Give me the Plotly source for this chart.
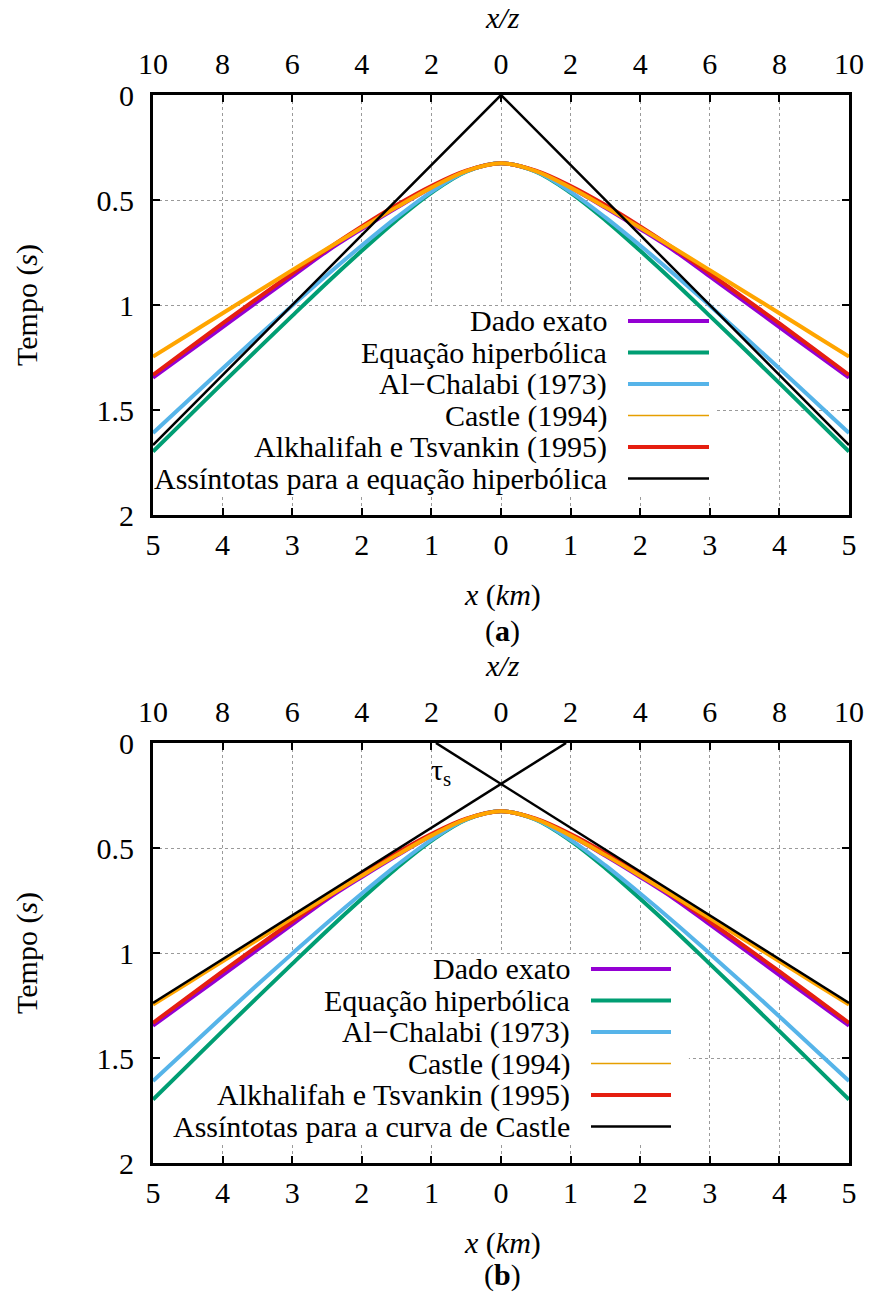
import plotly.graph_objects as go

# ---------------- data ----------------
X_KM = [-5.0, -4.5, -4.0, -3.5, -3.0, -2.5, -2.0, -1.5, -1.0, -0.5, 0.0,
        0.5, 1.0, 1.5, 2.0, 2.5, 3.0, 3.5, 4.0, 4.5, 5.0]

DADO_EXATO = [1.346, 1.226, 1.105, 0.984, 0.864, 0.744, 0.638, 0.537, 0.442, 0.362, 0.325,
              0.362, 0.442, 0.537, 0.638, 0.744, 0.864, 0.984, 1.105, 1.226, 1.346]
HIPERBOLICA = [1.698, 1.535, 1.372, 1.211, 1.052, 0.894, 0.742, 0.596, 0.466, 0.365, 0.325,
               0.365, 0.466, 0.596, 0.742, 0.894, 1.052, 1.211, 1.372, 1.535, 1.698]
AL_CHALABI = [1.610, 1.456, 1.302, 1.151, 1.003, 0.857, 0.717, 0.583, 0.461, 0.364, 0.325,
              0.364, 0.461, 0.583, 0.717, 0.857, 1.003, 1.151, 1.302, 1.456, 1.610]
CASTLE = [1.246, 1.143, 1.039, 0.937, 0.834, 0.732, 0.632, 0.534, 0.441, 0.362, 0.325,
          0.362, 0.441, 0.534, 0.632, 0.732, 0.834, 0.937, 1.039, 1.143, 1.246]
ALKHALIFAH = [1.333, 1.210, 1.088, 0.968, 0.850, 0.735, 0.626, 0.524, 0.433, 0.360, 0.325,
              0.360, 0.433, 0.524, 0.626, 0.735, 0.850, 0.968, 1.088, 1.210, 1.333]

# asymptotes of the hyperbolic equation (panel a)
ASS_HIP_X = [-5.0, 0.0, 5.0]
ASS_HIP_T = [1.667, 0.0, 1.667]
# asymptotes of Castle's curve (panel b)
ASS_CAS_L_X = [-5.0, 0.935]
ASS_CAS_L_T = [1.238, 0.0]
ASS_CAS_R_X = [-0.935, 5.0]
ASS_CAS_R_T = [0.0, 1.238]
TAU_S = [-0.86, 0.14]  # label position (x km, t s)

KM_TICKS = [-5, -4, -3, -2, -1, 0, 1, 2, 3, 4, 5]
KM_TICKTEXT = ['5', '4', '3', '2', '1', '0', '1', '2', '3', '4', '5']
XZ_TICKS = [-10, -8, -6, -4, -2, 0, 2, 4, 6, 8, 10]
XZ_TICKTEXT = ['10', '8', '6', '4', '2', '0', '2', '4', '6', '8', '10']
T_TICKS = [0, 0.5, 1, 1.5, 2]
T_TICKTEXT = ['0', '0.5', '1', '1.5', '2']

NAMES = ['Dado exato', 'Equação hiperbólica', 'Al\u2212Chalabi (1973)', 'Castle (1994)',
         'Alkhalifah e Tsvankin (1995)']
ASS_NAMES = ['Assíntotas para a equação hiperbólica', 'Assíntotas para a curva de Castle']

# ---------------- styles ----------------
W, H = 876, 1293
FONT = 'Liberation Serif, Times New Roman, Times, serif'
FS = 30
C_PURPLE = '#9400D3'
C_GREEN = '#009E73'
C_BLUE = '#56B4E9'
C_ORANGE = '#FFA500'
C_ORANGE_KEY = '#E69F00'
C_RED = '#E51E10'
LW = 4

def px_x(p):
    return p / W

def px_y(p):
    return 1 - p / H

fig = go.Figure()

series = [
    (DADO_EXATO, C_PURPLE, LW),
    (HIPERBOLICA, C_GREEN, LW),
    (AL_CHALABI, C_BLUE, LW),
    (ALKHALIFAH, C_RED, LW),
    (CASTLE, C_ORANGE, LW),
]

for xa, ya, xtopa in [('x', 'y', 'x2'), ('x3', 'y2', 'x4')]:
    # carrier for the top x/z axis (no visible marks)
    fig.add_trace(go.Scatter(x=[XZ_TICKS[0], XZ_TICKS[-1]], y=[None, None], mode='lines',
                             xaxis=xtopa, yaxis=ya, showlegend=False, hoverinfo='skip'))
    for vals, col, lw in series:
        fig.add_trace(go.Scatter(x=X_KM, y=vals, mode='lines', xaxis=xa, yaxis=ya,
                                 line=dict(color=col, width=lw, shape='spline', smoothing=1.0),
                                 showlegend=False, hoverinfo='skip'))

fig.add_trace(go.Scatter(x=ASS_HIP_X, y=ASS_HIP_T, mode='lines', xaxis='x', yaxis='y',
                         line=dict(color='black', width=2.5), showlegend=False, hoverinfo='skip'))
for xs, ts in [(ASS_CAS_L_X, ASS_CAS_L_T), (ASS_CAS_R_X, ASS_CAS_R_T)]:
    fig.add_trace(go.Scatter(x=xs, y=ts, mode='lines', xaxis='x3', yaxis='y2',
                             line=dict(color='black', width=2.5), showlegend=False,
                             hoverinfo='skip'))

# ---------------- axes ----------------
XD = [px_x(153), px_x(849)]
YD_A = [px_y(515), px_y(95)]
YD_B = [px_y(1163), px_y(743)]
tickfont = dict(family=FONT, size=FS, color='black')
grid = dict(showgrid=True, gridcolor='#9a9a9a', griddash='dot', gridwidth=1)

def xbottom(anchor):
    return dict(domain=XD, range=[-5, 5], tickmode='array', tickvals=KM_TICKS,
                ticktext=KM_TICKTEXT, ticks='inside', ticklen=7, tickwidth=1.5,
                tickcolor='black', showline=True, linewidth=3, linecolor='black',
                mirror=True, zeroline=False, anchor=anchor, tickfont=tickfont,
                ticklabelstandoff=1, **grid)

def xtop(overlay, anchor):
    return dict(overlaying=overlay, side='top', anchor=anchor, range=[-10, 10],
                tickmode='array', tickvals=XZ_TICKS, ticktext=XZ_TICKTEXT, ticks='inside',
                ticklen=7, tickwidth=1.5, tickcolor='black', showline=False,
                showgrid=False, zeroline=False, tickfont=tickfont, ticklabelstandoff=14)

def yax(domain, anchor):
    return dict(domain=domain, range=[2, 0], tickmode='array', tickvals=T_TICKS,
                ticktext=T_TICKTEXT, ticks='inside', ticklen=7, tickwidth=1.5,
                tickcolor='black', showline=True, linewidth=3, linecolor='black',
                mirror='ticks', zeroline=False, anchor=anchor, tickfont=tickfont,
                ticklabelstandoff=10, **grid)

fig.update_layout(
    width=W, height=H, margin=dict(l=0, r=0, t=0, b=0, autoexpand=False),
    paper_bgcolor='white', plot_bgcolor='white', showlegend=False,
    font=dict(family=FONT, size=FS, color='black'),
    xaxis=xbottom('y'), xaxis2=xtop('x', 'y'), yaxis=yax(YD_A, 'x'),
    xaxis3=xbottom('y2'), xaxis4=xtop('x3', 'y2'), yaxis2=yax(YD_B, 'x3'),
)

# ---------------- text ----------------
ann = []
def text(x, y, s, **kw):
    d = dict(x=x, y=y, xref='paper', yref='paper', text=s, showarrow=False,
             font=dict(family=FONT, size=FS, color='black'), xanchor='center', yanchor='middle')
    d.update(kw)
    ann.append(d)

for dy, lab, lab_y in [(0, '(<b>a</b>)', 631), (648, '(<b>b</b>)', 1275)]:
    text(px_x(502), px_y(18 + dy), '<i>x/z</i>')
    text(px_x(502), px_y(595 + dy), '<i>x</i> (<i>km</i>)')
    text(px_x(502), px_y(lab_y), lab)
    text(px_x(27), px_y(305 + dy), 'Tempo (<i>s</i>)', textangle=-90)

ann.append(dict(x=TAU_S[0], y=TAU_S[1], xref='x3', yref='y2', text='τ<sub>s</sub>',
                showarrow=False, font=dict(family=FONT, size=FS, color='black'),
                xanchor='center', yanchor='middle'))

# ---------------- keys ----------------
shapes = []
key_colors = [(C_PURPLE, 4), (C_GREEN, 4), (C_BLUE, 4), (C_ORANGE_KEY, 1.5), (C_RED, 4),
              ('black', 2.5)]
ROWS = [321, 352.5, 384, 415.5, 447, 478.5]
KEYS = [
    # dy, text right, sample x0, sample x1, last label, axes, opaque box (km, s)
    (0, 609, 628, 709, ASS_NAMES[0], ('x', 'y'), (-4.95, 1.005, 3.1, 1.905)),
    (648, 572, 591, 671, ASS_NAMES[1], ('x3', 'y2'), (-4.95, 1.005, 2.7, 1.905)),
]
for dy, txt_right, s0, s1, ass, (xr, yr), box in KEYS:
    # opaque key background: hides the grid but stays under the curves
    shapes.append(dict(type='rect', xref=xr, yref=yr, layer='between',
                       x0=box[0], x1=box[2], y0=box[1], y1=box[3],
                       fillcolor='white', line=dict(width=0)))
    for i, name in enumerate(NAMES + [ass]):
        y = ROWS[i] + dy
        text(px_x(txt_right), px_y(y), name, xanchor='right')
        col, w = key_colors[i]
        shapes.append(dict(type='line', xref='paper', yref='paper', x0=px_x(s0), x1=px_x(s1),
                           y0=px_y(y), y1=px_y(y), line=dict(color=col, width=w)))

fig.update_layout(annotations=ann, shapes=shapes)
fig.write_html('out.html')
